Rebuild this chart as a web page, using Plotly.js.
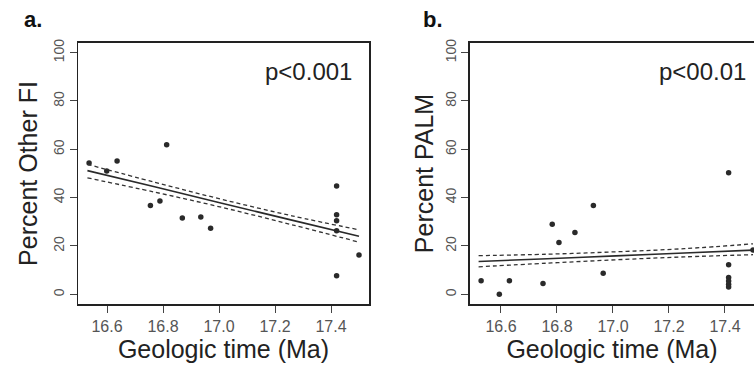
<!DOCTYPE html>
<html>
<head>
<meta charset="utf-8">
<script src="https://cdn.plot.ly/plotly-3.0.1.min.js"></script>
<style>html,body{margin:0;padding:0;background:#fff;}#chart{width:754px;height:369px;}</style>
</head>
<body>
<div id="chart"></div>
<script>
// Panel a: Percent Other FI vs geologic time
var timeA = [16.536, 16.599, 16.636, 16.813, 16.755, 16.789, 16.869, 16.935, 16.970, 17.42, 17.42, 17.42, 17.42, 17.42, 17.50];
var otherFI = [54.3, 51.0, 55.2, 61.9, 36.8, 38.6, 31.6, 32.0, 27.3, 44.8, 32.9, 30.5, 26.3, 7.7, 16.3];
var fitXA = [16.53, 16.77, 17.01, 17.26, 17.50];
var fitA = [51.2, 44.5, 37.7, 30.7, 24.0];
var upperA = [53.8, 46.4, 39.3, 32.5, 26.7];
var lowerA = [48.2, 42.3, 36.0, 28.8, 21.6];

// Panel b: Percent PALM vs geologic time
var timeB = [16.529, 16.594, 16.630, 16.750, 16.783, 16.807, 16.864, 16.930, 16.965, 17.413, 17.413, 17.413, 17.413, 17.413, 17.413, 17.50];
var palm = [5.6, 0.0, 5.6, 4.5, 29.0, 21.4, 25.6, 36.8, 8.7, 50.3, 12.2, 7.0, 5.5, 4.2, 3.0, 18.3];
var fitXB = [16.52, 16.765, 17.01, 17.255, 17.50];
var fitB = [13.6, 14.75, 15.9, 17.1, 18.3];
var upperB = [16.0, 16.6, 17.6, 18.9, 20.9];
var lowerB = [11.4, 12.9, 14.3, 15.5, 16.4];

var xTicks = [16.6, 16.8, 17.0, 17.2, 17.4];
var xTickText = ["16.6", "16.8", "17.0", "17.2", "17.4"];
var yTicks = [0, 20, 40, 60, 80, 100];
var yTickText = ["0", "20", "40", "60", "80", "100"];

var ink = '#2a2a2a';
function mk() { return {color: ink, size: 5.5}; }
function solid() { return {color: ink, width: 1.6, shape: 'spline'}; }
function dashed() { return {color: '#333', width: 1.3, dash: '4px,3px', shape: 'spline'}; }

var traces = [
  {x: timeA, y: otherFI, mode: 'markers', marker: mk(), xaxis: 'x', yaxis: 'y'},
  {x: fitXA, y: fitA, mode: 'lines', line: solid(), xaxis: 'x', yaxis: 'y'},
  {x: fitXA, y: upperA, mode: 'lines', line: dashed(), xaxis: 'x', yaxis: 'y'},
  {x: fitXA, y: lowerA, mode: 'lines', line: dashed(), xaxis: 'x', yaxis: 'y'},
  {x: timeB, y: palm, mode: 'markers', marker: mk(), xaxis: 'x2', yaxis: 'y2', cliponaxis: false},
  {x: fitXB, y: fitB, mode: 'lines', line: solid(), xaxis: 'x2', yaxis: 'y2'},
  {x: fitXB, y: upperB, mode: 'lines', line: dashed(), xaxis: 'x2', yaxis: 'y2'},
  {x: fitXB, y: lowerB, mode: 'lines', line: dashed(), xaxis: 'x2', yaxis: 'y2'}
];
traces.forEach(function(t){ t.hoverinfo = 'skip'; });

var fam = 'Liberation Sans, Arial, sans-serif';
var xTickFont = {family: fam, size: 16, color: '#555'};
var yTickFont = {family: fam, size: 14, color: '#555'};
var titleFont = {family: fam, size: 25, color: '#222'};

function xAxis(domain, range, anchor) {
  return {
    domain: domain, range: range, anchor: anchor, tickvals: xTicks, ticktext: xTickText,
    ticks: 'outside', ticklen: 7, tickwidth: 1, tickcolor: '#444',
    showline: true, linecolor: '#222', linewidth: 1.5, mirror: true,
    showgrid: false, zeroline: false, tickfont: xTickFont,
    title: {text: 'Geologic time (Ma)', font: titleFont, standoff: 4},
    automargin: false, fixedrange: true
  };
}
function yAxis(anchor, titleText, mirror, standoff) {
  return {
    domain: [0.17615, 0.88347], range: [-4, 104], anchor: anchor,
    tickvals: yTicks, ticktext: yTickText, tickangle: -90,
    ticks: 'outside', ticklen: 7, tickwidth: 1, tickcolor: '#444',
    showline: true, linecolor: '#222', linewidth: 1.5, mirror: mirror,
    showgrid: false, zeroline: false, tickfont: yTickFont,
    title: {text: titleText, font: titleFont, standoff: standoff},
    automargin: false, fixedrange: true
  };
}

var layout = {
  width: 754, height: 369,
  margin: {l: 0, r: 0, t: 0, b: 0},
  paper_bgcolor: '#fff', plot_bgcolor: '#fff',
  showlegend: false,
  xaxis: xAxis([0.10345, 0.48939], [16.4964, 17.5357], 'y'),
  yaxis: yAxis('x', 'Percent Other FI', true, 6),
  xaxis2: xAxis([0.62334, 1.0], [16.4893, 17.5036], 'y2'),
  yaxis2: yAxis('x2', 'Percent PALM', false, 2),
  annotations: [
    {text: '<b>a.</b>', xref: 'paper', yref: 'paper', x: 22/754, y: 1 - 20/369, xanchor: 'left', yanchor: 'middle', showarrow: false,
     font: {family: fam, size: 22, color: '#111'}},
    {text: '<b>b.</b>', xref: 'paper', yref: 'paper', x: 421/754, y: 1 - 20/369, xanchor: 'left', yanchor: 'middle', showarrow: false,
     font: {family: fam, size: 22, color: '#111'}},
    {text: 'p<0.001', xref: 'paper', yref: 'paper', x: 354/754, y: 1 - 72/369, xanchor: 'right', yanchor: 'middle', showarrow: false,
     font: {family: fam, size: 24, color: '#222'}},
    {text: 'p<00.01', xref: 'paper', yref: 'paper', x: 748/754, y: 1 - 72/369, xanchor: 'right', yanchor: 'middle', showarrow: false,
     font: {family: fam, size: 24, color: '#222'}}
  ]
};

Plotly.newPlot('chart', traces, layout, {staticPlot: true, displayModeBar: false});
</script>
</body>
</html>
